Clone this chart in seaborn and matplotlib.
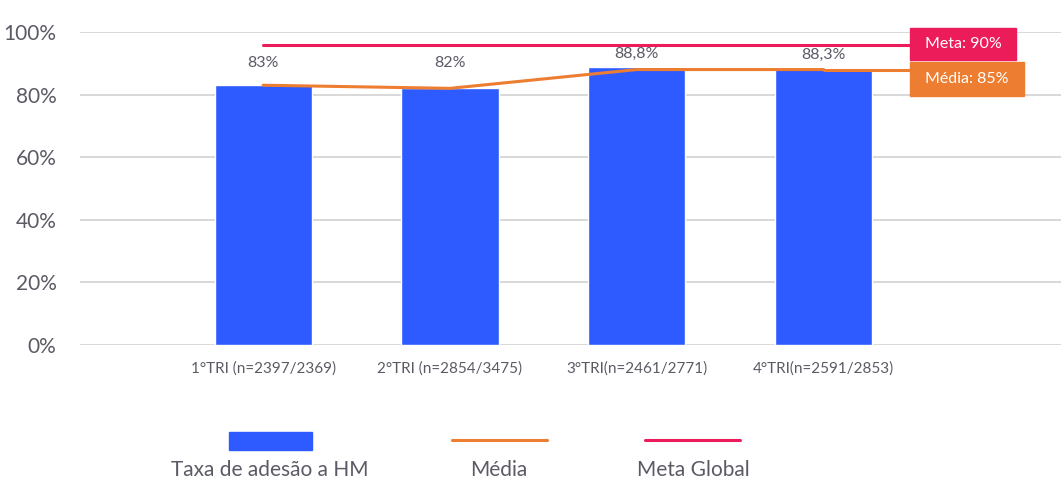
import numpy as np
import matplotlib
matplotlib.use('Agg')
import matplotlib.pyplot as plt
import seaborn as sns
from matplotlib.patches import Rectangle
from matplotlib.lines import Line2D

# dados
categorias = ['1°TRI (n=2397/2369)', '2°TRI (n=2854/3475)', '3°TRI(n=2461/2771)', '4°TRI(n=2591/2853)']
taxa_adesao = [83, 82, 88.8, 88.3]
rotulos_barras = ['83%', '82%', '88,8%', '88,3%']
media_linha = [83, 82, 88, 88]
meta_linha = 96          # altura em que a linha da meta aparece no gráfico
texto_meta = 'Meta: 90%'
texto_media = 'Média: 85%'
yticks = [0, 20, 40, 60, 80, 100]

AZUL = '#2E5BFF'
LARANJA = '#ED7D31'
VERMELHO = '#EC1C5A'
CINZA = '#5B5B66'

sns.set_theme(style='white')
plt.rcParams['font.family'] = ['Lato', 'DejaVu Sans']

fig = plt.figure(figsize=(10.61, 4.79), dpi=100)
ax = fig.add_axes([80 / 1061, 1 - 345 / 479, 1 - 80 / 1061, (345 - 32) / 479])

sns.barplot(x=categorias, y=taxa_adesao, color=AZUL, saturation=1, width=0.52, ax=ax, zorder=3)

xs = np.arange(len(categorias))
fim = 3.46
sns.lineplot(x=xs, y=media_linha, color=LARANJA, linewidth=2.2, ax=ax, zorder=4)
ax.plot([xs[-1], fim], [media_linha[-1], media_linha[-1]], color=LARANJA, linewidth=2.2, zorder=4)
ax.plot([xs[0], fim], [meta_linha, meta_linha], color=VERMELHO, linewidth=2.2, zorder=4)

# rótulos das barras
offsets = [22, 25, 13, 14]
for i, (v, t) in enumerate(zip(taxa_adesao, rotulos_barras)):
    ax.annotate(t, (i, v), xytext=(0, offsets[i]), textcoords='offset pixels',
                ha='center', va='center', fontsize=11.5, color=CINZA, zorder=5)

# caixas da meta e da média
ax.add_patch(Rectangle((fim, 91.2), 4.03 - fim, 10.2, color=VERMELHO, clip_on=False, zorder=5))
ax.text((fim + 4.03) / 2, 96.3, texto_meta, ha='center', va='center', color='white', fontsize=11.5, zorder=6)
ax.add_patch(Rectangle((fim, 79.7), 4.07 - fim, 10.6, color=LARANJA, clip_on=False, zorder=5))
ax.text((fim + 4.07) / 2, 85.0, texto_media, ha='center', va='center', color='white', fontsize=11.5, zorder=6)

ax.set_xlim(-0.98, 4.27)
ax.set_ylim(0, 100)
ax.set_yticks(yticks)
ax.set_yticklabels([f'{v}%' for v in yticks], fontsize=15, color=CINZA)
ax.tick_params(axis='y', length=0, pad=17)
ax.tick_params(axis='x', length=0, pad=12, labelsize=11, labelcolor=CINZA)
ax.grid(axis='y', color='#D6D6D6', linewidth=1.3, zorder=0)
ax.set_axisbelow(True)
for s in ax.spines.values():
    s.set_visible(False)
ax.set_xlabel('')
ax.set_ylabel('')

# legenda desenhada abaixo do gráfico
fig.add_artist(Rectangle((229 / 1061, 1 - 450 / 479), 83 / 1061, 18 / 479, color=AZUL, transform=fig.transFigure))
fig.add_artist(Line2D([452 / 1061, 547 / 1061], [1 - 440 / 479] * 2, color=LARANJA, linewidth=2.2, transform=fig.transFigure))
fig.add_artist(Line2D([645 / 1061, 740 / 1061], [1 - 440 / 479] * 2, color=VERMELHO, linewidth=2.2, transform=fig.transFigure))
for xc, t in [(270, 'Taxa de adesão a HM'), (499, 'Média'), (693, 'Meta Global')]:
    fig.text(xc / 1061, 1 - 470 / 479, t, ha='center', va='center', fontsize=15, color=CINZA)

fig.savefig('out.png', dpi=100)
